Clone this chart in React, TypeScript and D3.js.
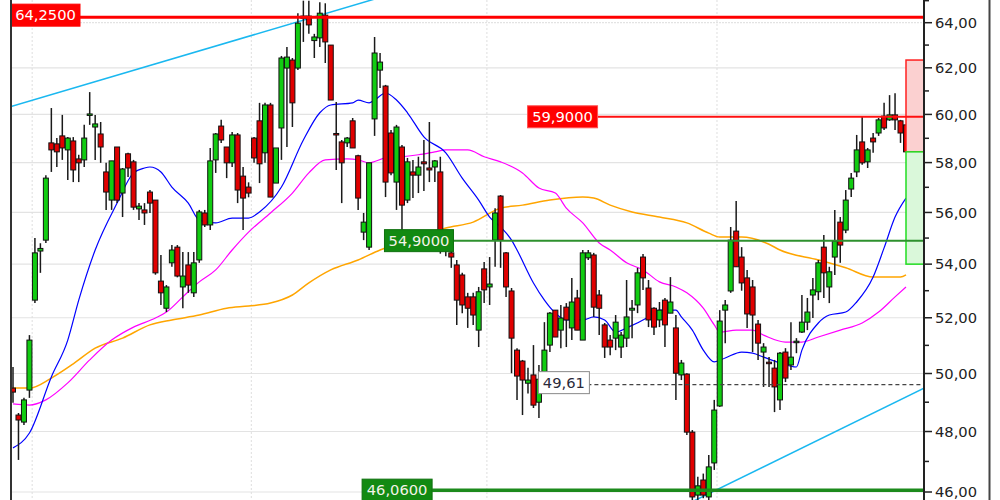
import React from 'react';
import * as d3 from 'd3';

// ---- candle data (index 0..163) ----
const opens = [49.49,48.56,48.32,49.42,52.65,54.50,54.92,58.81,58.77,59.10,58.52,58.89,58.15,58.11,59.98,59.47,59.18,57.62,56.49,58.64,56.77,58.36,58.03,56.14,56.10,56.81,56.49,53.36,52.35,54.05,54.65,53.14,53.97,52.92,54.16,55.98,55.51,58.11,59.51,58.64,57.99,59.14,57.45,57.01,59.01,59.73,58.40,60.40,57.17,59.43,61.99,62.34,61.99,64.20,64.30,63.20,63.32,64.34,63.00,59.20,58.85,58.81,59.73,58.28,55.23,54.65,59.81,61.90,61.21,59.22,57.21,58.64,56.49,57.62,57.49,58.03,57.78,57.82,57.62,54.80,54.43,53.97,53.59,52.77,52.77,51.55,53.82,53.14,54.92,56.65,54.43,52.99,50.83,50.44,49.66,49.95,49.00,49.95,51.01,52.28,51.55,52.39,51.63,52.73,51.19,54.24,54.35,52.84,51.74,51.19,51.26,50.94,51.26,52.28,52.47,54.27,53.10,52.35,51.92,52.65,52.17,51.63,49.95,49.98,47.98,45.90,46.39,45.84,46.95,48.87,52.28,52.99,55.27,54.27,53.48,53.14,51.77,50.76,50.40,50.19,49.08,50.76,50.30,51.10,51.48,51.84,52.84,52.96,54.65,53.14,54.27,55.62,55.31,56.93,57.62,58.85,58.03,59.01,59.22,59.93,59.77,59.98,59.73,59.56];
const highs = [50.23,48.63,49.15,51.37,55.00,54.80,57.49,60.27,59.01,59.98,59.05,59.05,58.32,59.56,60.95,59.98,59.68,57.99,58.07,58.64,57.78,58.40,58.11,56.37,56.37,56.89,56.49,54.35,53.21,54.73,54.73,54.46,54.46,54.46,56.10,56.10,58.60,59.22,59.77,58.64,59.26,59.22,57.82,57.20,59.05,60.49,60.49,60.49,58.60,62.52,62.92,62.43,64.43,65.00,65.00,63.50,64.93,64.88,63.00,60.53,58.93,59.05,59.85,58.32,55.98,57.99,63.36,62.65,61.26,59.35,59.56,58.72,58.19,58.11,58.24,58.93,59.68,58.11,58.24,55.10,54.54,54.16,53.67,52.92,52.92,53.14,54.08,54.27,56.17,56.69,54.46,53.10,50.90,50.48,50.20,51.01,50.30,51.84,52.21,52.28,52.47,52.54,53.48,53.03,54.54,54.54,54.43,53.03,51.81,51.37,52.10,51.48,53.40,52.65,53.86,54.39,53.40,52.39,52.58,52.73,53.51,52.10,50.48,50.01,48.05,46.50,46.60,47.21,49.08,52.28,52.65,55.43,56.45,54.65,53.78,53.40,51.92,51.08,50.58,50.48,50.76,50.90,51.84,51.26,52.84,52.73,53.48,54.16,55.12,53.90,56.10,55.82,56.89,57.58,59.14,59.89,58.60,59.22,59.85,60.49,60.82,60.90,59.77,59.56];
const lows = [48.98,47.05,48.22,49.15,52.54,53.67,54.81,57.62,57.82,58.11,57.29,57.21,57.21,57.82,59.56,58.11,57.99,56.10,56.10,56.37,55.82,57.41,56.10,55.70,55.51,55.98,53.60,52.47,52.21,53.90,53.50,52.35,52.92,52.77,54.05,55.43,55.31,57.58,58.81,57.37,57.82,56.37,55.31,56.60,57.99,57.17,57.99,56.61,57.17,58.11,58.64,59.47,61.90,63.14,63.50,62.43,62.92,62.21,60.61,57.70,56.37,58.64,58.60,56.10,54.92,54.54,59.10,61.13,56.61,57.49,56.10,54.54,56.37,56.57,56.77,56.85,57.21,57.21,54.40,54.30,53.86,51.74,52.17,51.63,51.74,50.94,52.54,52.47,53.90,53.86,52.77,50.01,49.08,48.56,49.30,48.80,48.46,49.95,50.76,51.30,50.90,50.94,51.19,51.55,51.19,54.16,52.03,51.37,50.55,50.65,50.83,50.55,50.94,51.26,52.17,53.03,51.66,51.37,51.66,50.94,52.17,49.08,49.77,47.88,45.74,45.70,45.80,45.74,46.72,48.84,51.08,52.92,53.90,53.00,51.63,50.76,50.48,49.53,49.53,48.66,48.73,49.70,50.12,50.72,51.45,51.55,51.99,52.65,52.73,52.54,53.59,54.05,55.19,56.61,57.41,57.91,57.78,58.40,59.10,59.35,59.73,59.35,58.81,58.44];
const closes = [49.35,48.39,49.08,51.19,54.43,54.60,57.37,58.52,58.44,58.60,59.01,57.70,57.99,59.01,60.02,59.60,58.64,56.81,58.07,56.49,57.74,57.78,56.21,56.25,55.98,56.37,53.67,52.92,53.14,54.54,53.55,53.55,53.21,54.05,56.02,55.51,58.07,59.18,58.93,57.99,59.14,56.89,56.57,56.77,58.19,57.95,60.40,56.61,58.60,62.43,62.47,60.49,63.98,64.30,63.90,63.36,64.43,63.14,60.61,59.15,57.99,59.01,58.60,56.57,55.62,57.99,62.65,62.25,57.21,57.58,59.47,56.29,58.03,57.49,57.82,57.95,57.70,58.07,54.80,54.60,54.27,52.65,52.47,52.35,52.10,52.96,53.03,53.25,55.98,54.92,53.14,51.26,49.91,49.77,49.77,48.90,49.80,50.83,52.17,51.30,51.99,51.92,52.58,51.55,54.43,54.43,52.39,52.35,50.94,50.94,51.84,51.37,52.03,52.35,53.67,53.48,51.92,51.66,52.28,51.74,52.58,50.01,50.37,47.98,45.84,46.20,45.90,46.82,48.73,51.88,52.47,54.92,53.90,53.29,52.14,52.10,51.08,50.94,50.35,49.53,50.72,49.84,50.58,51.15,51.84,52.21,53.03,54.05,53.67,53.71,54.88,54.73,56.49,57.37,58.52,57.99,58.52,58.85,59.77,59.43,59.98,59.77,59.22,58.44];

// ---- moving averages (candle index, value) ----
const blueIdx = [0,3,7,10,12,15,19,22,24,25,27,29,32,34,37,40,43,45,49,53,56,58,62,63,65,66,68,70,72,75,79,82,85,87,89,91,92,95,97,99,101,104,106,108,110,112,116,118,121,122,124,126,128,130,133,135,137,140,143,144,147,149,152,154,157,159,161,163];
const blueVal = [47.45,47.95,49.88,51.19,52.65,54.54,56.37,57.58,57.78,57.82,57.62,57.01,56.37,55.70,55.59,55.78,55.78,56.02,57.01,58.93,60.07,60.40,60.49,60.61,60.49,60.61,60.91,60.61,60.07,59.06,58.40,57.37,56.49,55.82,55.43,54.92,54.54,53.29,52.65,52.17,51.92,51.92,52.03,51.92,51.48,51.63,52.03,52.28,52.28,52.03,51.55,50.83,50.41,50.55,50.76,50.72,50.58,50.37,50.23,50.83,51.81,52.10,52.21,52.58,53.51,54.62,55.82,56.57];
const magIdx = [0,3,6,10,14,18,22,26,28,31,34,37,40,43,47,51,54,57,61,63,65,68,71,74,77,79,83,86,89,93,96,99,101,104,107,109,112,115,118,121,123,126,128,129,132,135,137,141,144,147,151,155,158,161,163];
const magVal = [48.94,48.90,49.08,49.67,50.48,51.19,51.66,51.99,52.21,52.77,53.33,53.78,54.54,55.23,55.98,56.77,57.58,58.11,58.15,58.11,57.99,58.19,58.24,58.32,58.44,58.52,58.52,58.24,58.03,57.58,56.97,56.77,56.17,55.59,54.81,54.54,54.05,53.78,53.33,53.14,52.92,52.35,51.74,51.48,51.55,51.55,51.37,51.12,51.12,51.30,51.55,51.81,52.21,52.77,53.14];
const orgIdx = [0,3,7,11,15,20,25,29,34,39,43,47,51,54,58,63,67,73,79,84,89,93,98,104,106,109,113,118,123,127,129,133,138,140,147,152,157,162,163];
const orgVal = [49.49,49.49,49.84,50.34,50.90,51.26,51.74,51.92,52.10,52.35,52.43,52.54,52.84,53.29,53.78,54.16,54.54,54.96,55.39,55.62,56.17,56.29,56.49,56.61,56.57,56.29,56.02,55.82,55.59,55.19,55.04,55.04,54.76,54.54,54.16,53.86,53.51,53.51,53.59];

// ---- trend lines (two anchors each: candle index, price) ----
const trendUpperIdx = [0, 60];
const trendUpperVal = [60.36, 64.63];
const trendLowerIdx = [126, 163];
const trendLowerVal = [45.86, 49.18];

// ---- horizontal levels ----
const levelVals = [64.25, 59.9, 54.9, 46.06];
const levelAnchorIdx = [-0.4, 106.7, 80.4, 76.5];
const lastPriceVal = 49.61;
const lastPriceIdx = 95.9;
const projHigh = 62.34;
const projLow = 54.0;

const yMajor = [46, 48, 50, 52, 54, 56, 58, 60, 62, 64];
const yMinor = [45, 47, 49, 51, 53, 55, 57, 59, 61, 63, 65];
const vGridIdx = [3.5, 43.5, 86.5, 128.5];

const FONT = '"DejaVu Sans", Verdana, sans-serif';

export default function App() {
  const W = 1000, H = 500;
  const left = 11, right = 924;
  const x = d3.scaleLinear().domain([0, 163]).range([13, 906]);
  const y = d3.scaleLog().domain([46, 64]).range([492, 22.7]);
  const fmt2 = (v: number) => d3.format('.2f')(v).replace('.', ',');
  const fmt4 = (v: number) => d3.format('.4f')(v).replace('.', ',');

  const maLine = (idx: number[], val: number[]) =>
    d3.line<number>()
      .x((_, k) => x(idx[k]))
      .y((v) => y(v))
      .curve(d3.curveMonotoneX)(val) || '';

  const trend = (idx: number[], val: number[]) => {
    const x0 = x(idx[0]), y0 = y(val[0]), x1 = x(idx[1]), y1 = y(val[1]);
    const s = (y1 - y0) / (x1 - x0);
    return { x1: left, y1: y0 + s * (left - x0), x2: right, y2: y0 + s * (right - x0) };
  };
  const tu = trend(trendUpperIdx, trendUpperVal);
  const tl = trend(trendLowerIdx, trendLowerVal);

  const labelBox = (xl: number, yc: number, text: string, fill: string, stroke: string, color: string, w: number) => (
    <g>
      <rect x={xl} y={yc - 11} width={w} height={22} fill={fill} stroke={stroke} strokeWidth={1} />
      <text x={xl + w / 2} y={yc} dy="0.36em" textAnchor="middle" fill={color} fontFamily={FONT} fontSize={14.7}>{text}</text>
    </g>
  );

  const lastX = x(163);
  const lastC = closes[163];

  return (
    <div>
      <style>{`body{margin:0;background:#fff}`}</style>
      <svg width={W} height={H} style={{ display: 'block' }}>
        <defs>
          <clipPath id="plot"><rect x={left} y={0} width={right - left} height={H} /></clipPath>
        </defs>
        <rect x={0} y={0} width={W} height={H} fill="#ffffff" />
        {/* grid */}
        {yMajor.map((t) => (
          <line key={'g' + t} x1={left} x2={right} y1={y(t)} y2={y(t)} stroke="#e3e3e3" strokeWidth={1.2} strokeDasharray={t === 64 ? '2,1' : undefined} />
        ))}
        {vGridIdx.map((g) => (
          <line key={'v' + g} x1={x(g)} x2={x(g)} y1={0} y2={H} stroke="#dedede" strokeWidth={1} strokeDasharray="2,2" />
        ))}
        <g clipPath="url(#plot)">
          {/* trend lines */}
          <line {...tu} stroke="#1ab8f0" strokeWidth={1.5} />
          <line {...tl} stroke="#1ab8f0" strokeWidth={1.5} />
          {/* moving averages */}
          <path d={maLine(orgIdx, orgVal)} fill="none" stroke="#ffa500" strokeWidth={1.5} />
          <path d={maLine(magIdx, magVal)} fill="none" stroke="#ff00ff" strokeWidth={1.2} />
          <path d={maLine(blueIdx, blueVal)} fill="none" stroke="#0000ff" strokeWidth={1.2} />
          {/* candles */}
          {opens.map((o, i) => {
            const c = closes[i];
            const up = c >= o;
            const cx = x(i);
            const yt = y(Math.max(o, c));
            const yb = y(Math.min(o, c));
            return (
              <g key={'c' + i}>
                <line x1={cx} x2={cx} y1={y(highs[i])} y2={y(lows[i])} stroke="#1a1a1a" strokeWidth={1.5} />
                <rect x={cx - 2.5} y={yt} width={5} height={Math.max(1.5, yb - yt)} fill={up ? '#11cc11' : '#e00000'} stroke="#111" strokeWidth={1} />
              </g>
            );
          })}
        </g>
        {/* projection boxes */}
        <rect x={lastX} y={y(projHigh)} width={right - lastX} height={y(lastC) - y(projHigh)} fill="#fbd0d0" stroke="#ff2020" strokeWidth={1.5} />
        <rect x={lastX} y={y(lastC)} width={right - lastX} height={y(projLow) - y(lastC)} fill="#daf8da" stroke="#22dd22" strokeWidth={1.5} />
        {/* levels */}
        <line x1={x(levelAnchorIdx[0])} x2={right} y1={y(levelVals[0])} y2={y(levelVals[0])} stroke="#ff0000" strokeWidth={3} />
        <line x1={x(levelAnchorIdx[1])} x2={right} y1={y(levelVals[1])} y2={y(levelVals[1])} stroke="#ff1010" strokeWidth={2} />
        <line x1={x(levelAnchorIdx[2])} x2={right} y1={y(levelVals[2])} y2={y(levelVals[2])} stroke="#2e912e" strokeWidth={2} />
        <line x1={x(levelAnchorIdx[3])} x2={right} y1={y(levelVals[3])} y2={y(levelVals[3])} stroke="#1c8a1c" strokeWidth={3.5} />
        <line x1={x(lastPriceIdx)} x2={right} y1={y(lastPriceVal)} y2={y(lastPriceVal)} stroke="#444" strokeWidth={1.2} strokeDasharray="4,3" />
        {/* level labels */}
        {labelBox(left, y(levelVals[0]) - 2, fmt4(levelVals[0]), '#ff0000', '#ff0000', '#ffffff', 69)}
        {labelBox(x(levelAnchorIdx[1]) - 70, y(levelVals[1]), fmt4(levelVals[1]), '#ff0000', '#ff5050', '#ffffff', 70)}
        {labelBox(x(levelAnchorIdx[2]) - 69, y(levelVals[2]), fmt4(levelVals[2]), '#128a12', '#0e700e', '#f4f4e8', 69)}
        {labelBox(x(levelAnchorIdx[3]) - 70, y(levelVals[3]), fmt4(levelVals[3]), '#128a12', '#0e700e', '#f4f4e8', 70)}
        {labelBox(x(lastPriceIdx), y(lastPriceVal) - 2, fmt2(lastPriceVal), '#ffffff', '#8a8a8a', '#2a2a3a', 51)}
        {/* axes */}
        <line x1={left} x2={left} y1={0} y2={H} stroke="#333" strokeWidth={2} />
        <line x1={right} x2={right} y1={0} y2={H} stroke="#222" strokeWidth={2} />
        <line x1={989.5} x2={989.5} y1={0} y2={H} stroke="#444" strokeWidth={2} />
        {yMinor.map((t) => (
          <line key={'mn' + t} x1={right} x2={right + 5} y1={y(t)} y2={y(t)} stroke="#222" strokeWidth={1.5} />
        ))}
        {yMajor.map((t) => (
          <g key={'mj' + t}>
            <line x1={right} x2={right + 8} y1={y(t)} y2={y(t)} stroke="#222" strokeWidth={1.5} />
            <text x={935} y={y(t)} dy="0.36em" fill="#222" fontFamily={FONT} fontSize={14.7}>{fmt2(t)}</text>
          </g>
        ))}
      </svg>
    </div>
  );
}
